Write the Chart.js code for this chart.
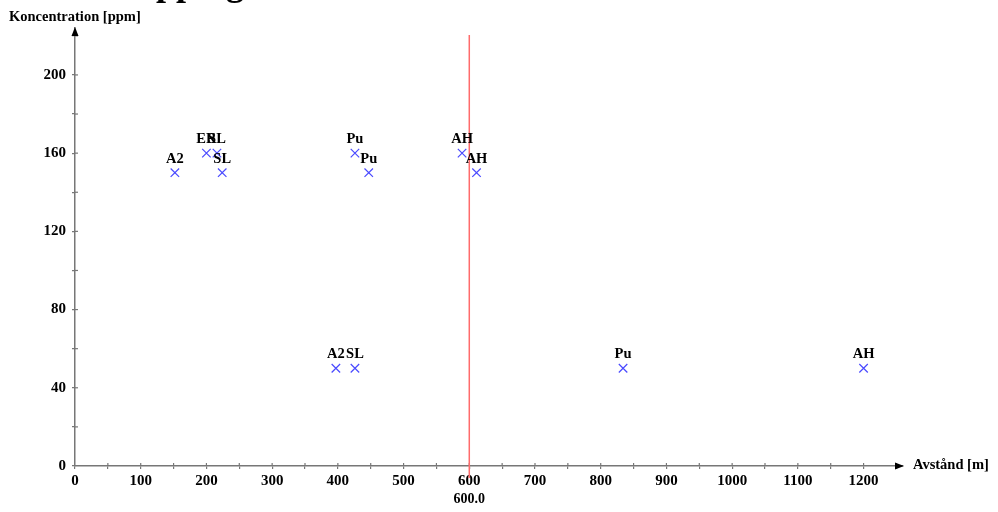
<!DOCTYPE html>
<html>
<head>
<meta charset="utf-8">
<script src="https://cdn.jsdelivr.net/npm/chart.js@4.4.0/dist/chart.umd.min.js"></script>
<style>
  html, body { margin: 0; padding: 0; background: #fff; }
  #wrap { width: 998px; height: 512px; }
</style>
</head>
<body>
<div id="wrap"><canvas id="chart" width="998" height="512"></canvas></div>
<script>
// data
var pointLabels = ["A2", "ER", "SL", "SL", "Pu", "Pu", "AH", "AH", "A2", "SL", "Pu", "AH"];
var distances = [152, 200, 216, 224, 426, 447, 589, 611, 397, 426, 834, 1200];
var concentrations = [150, 160, 160, 150, 160, 150, 160, 150, 50, 50, 50, 50];
var markerX = 600;
var xTitle = "Avstånd [m]";
var yTitle = "Koncentration [ppm]";
var chartTitle = "Mapping";

var serif = "'Liberation Serif', 'DejaVu Serif', serif";
var axisColor = "#777777";

// labels above points, red marker line, arrows, axis titles
const extras = {
  id: "extras",
  afterDatasetsDraw(chart) {
    const { ctx, chartArea: { top, bottom, left, right }, scales: { x, y } } = chart;
    ctx.save();

    // small ticks crossing into the plot side of the axes
    ctx.strokeStyle = axisColor;
    ctx.lineWidth = 1.2;
    x.ticks.forEach(function (t) {
      const px = x.getPixelForValue(t.value);
      if (px <= left + 1) return;
      ctx.beginPath();
      ctx.moveTo(px, bottom);
      ctx.lineTo(px, bottom - 3);
      ctx.stroke();
    });
    y.ticks.forEach(function (t) {
      const py = y.getPixelForValue(t.value);
      if (py >= bottom - 1) return;
      ctx.beginPath();
      ctx.moveTo(left, py);
      ctx.lineTo(left + 3, py);
      ctx.stroke();
    });

    // red vertical marker
    const mx = x.getPixelForValue(markerX);
    ctx.strokeStyle = "#ff6b6b";
    ctx.lineWidth = 1.5;
    ctx.beginPath();
    ctx.moveTo(mx, top + 7);
    ctx.lineTo(mx, bottom + 12);
    ctx.stroke();

    ctx.fillStyle = "#000";
    ctx.font = "bold 14px " + serif;
    ctx.textAlign = "center";
    ctx.textBaseline = "middle";
    ctx.fillText(markerX.toFixed(1), mx, bottom + 33);

    // point labels
    const meta = chart.getDatasetMeta(0);
    ctx.font = "bold 14.5px " + serif;
    ctx.textBaseline = "alphabetic";
    meta.data.forEach(function (pt, i) {
      ctx.fillText(pointLabels[i], pt.x, pt.y - 10);
    });

    // arrows
    ctx.fillStyle = "#000";
    ctx.beginPath();
    ctx.moveTo(right + 1, bottom);
    ctx.lineTo(right - 8, bottom - 3.5);
    ctx.lineTo(right - 8, bottom + 3.5);
    ctx.closePath();
    ctx.fill();
    ctx.beginPath();
    ctx.moveTo(left, top - 1);
    ctx.lineTo(left - 3.5, top + 8);
    ctx.lineTo(left + 3.5, top + 8);
    ctx.closePath();
    ctx.fill();

    // axis titles
    ctx.font = "bold 14.5px " + serif;
    ctx.textAlign = "left";
    ctx.textBaseline = "middle";
    ctx.fillText(xTitle, right + 10, bottom - 1);
    ctx.fillText(yTitle, 9, 17);

    // chart title, cut off at the top edge
    ctx.font = "bold 36px " + serif;
    ctx.textBaseline = "alphabetic";
    ctx.fillText(chartTitle, 104, -5);
    ctx.restore();
  }
};

const tickFont = { family: serif, size: 15, weight: "bold" };

const config = {
  type: "scatter",
  data: {
    datasets: [{
      data: distances.map(function (d, i) { return { x: d, y: concentrations[i] }; }),
      pointStyle: "crossRot",
      pointRadius: 6,
      pointHoverRadius: 6,
      borderColor: "#4a4aff",
      backgroundColor: "#4a4aff",
      pointBorderWidth: 1.2
    }]
  },
  options: {
    responsive: false,
    animation: false,
    layout: { padding: { left: 0, top: 28, right: 95, bottom: 0 } },
    plugins: { legend: { display: false }, tooltip: { enabled: false } },
    scales: {
      x: {
        type: "linear",
        min: 0,
        max: 1260,
        afterFit(scale) { scale.height = 46; },
        border: { color: axisColor, width: 1.5 },
        grid: { drawOnChartArea: false, color: axisColor, tickLength: 3, lineWidth: 1.2 },
        ticks: {
          stepSize: 50,
          includeBounds: false,
          maxRotation: 0,
          autoSkip: false,
          padding: 3,
          color: "#000",
          font: tickFont,
          callback: function (v) { return v % 100 === 0 ? String(v) : ""; }
        }
      },
      y: {
        type: "linear",
        min: 0,
        max: 224,
        afterFit(scale) { scale.width = 75; },
        border: { color: axisColor, width: 1.5 },
        grid: { drawOnChartArea: false, color: axisColor, tickLength: 3, lineWidth: 1.2 },
        ticks: {
          stepSize: 20,
          includeBounds: false,
          autoSkip: false,
          padding: 6,
          color: "#000",
          font: tickFont,
          callback: function (v) { return v % 40 === 0 ? String(v) : ""; }
        }
      }
    }
  },
  plugins: [extras]
};

const myChart = new Chart(document.getElementById("chart"), config);
</script>
</body>
</html>
